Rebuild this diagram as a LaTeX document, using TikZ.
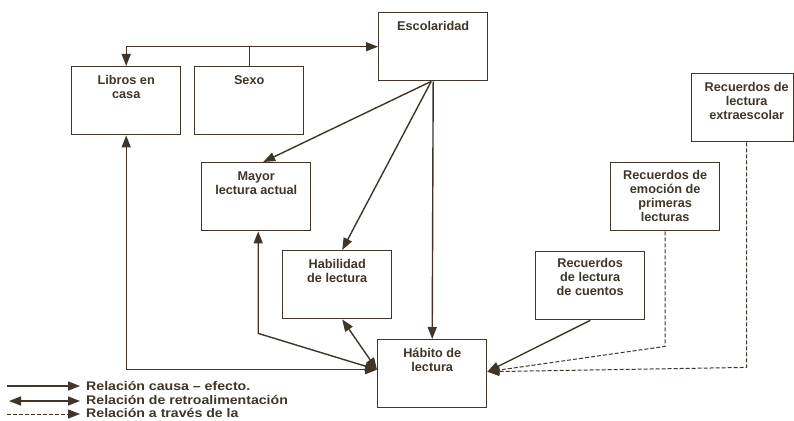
\documentclass[tikz,border=0pt]{standalone}
\usepackage{fontspec}
\setmainfont{Liberation Sans}
\usetikzlibrary{arrows.meta}
\definecolor{ink}{HTML}{3F3529}
\newcommand{\fls}{\rule{0pt}{12pt}}
\newcommand{\legw}[1]{\scalebox{1.13}[1]{#1}}
\begin{document}
\begin{tikzpicture}[x=1pt,y=-1pt,
  box/.style={draw=ink, line width=1.4pt, minimum width=109pt, minimum height=68pt, anchor=north west, inner sep=0pt},
  txt/.style={anchor=north, align=center, font=\fontsize{12.7}{14}\selectfont\bfseries, text=ink, inner sep=0pt},
  legtxt/.style={anchor=base west, font=\fontsize{12.5}{14}\selectfont\bfseries, text=ink, inner sep=0pt},
  con/.style={draw=ink, line width=1.4pt},
  dcon/.style={draw=ink, line width=1pt, dash pattern=on 4pt off 2pt},
  tip/.style={-{Triangle[length=12pt,width=9pt]}},
  tips/.style={{Triangle[length=12pt,width=9pt]}-{Triangle[length=12pt,width=9pt]}}
]
\useasboundingbox[fill=white] (0,0) rectangle (794,420);

% boxes
\node[box] (esc) at (378,12) {};
\node[txt] (esct) at ([yshift=-6pt]esc.north) {\fls Escolaridad};
\node[box] (lib) at (71,66) {};
\node[txt] (libt) at ([yshift=-6pt]lib.north) {\fls Libros en\\casa};
\node[box] (sex) at (194,66) {};
\node[txt] (sext) at ([yshift=-6pt]sex.north) {\fls Sexo};
\node[box, minimum width=102pt] (ext) at (691,73) {};
\node[txt] (extt) at ([xshift=4pt,yshift=-6pt]ext.north) {\fls Recuerdos de\\lectura\\extraescolar};
\node[box] (may) at (201,162) {};
\node[txt] (mayt) at ([yshift=-6pt]may.north) {\fls Mayor\\lectura actual};
\node[box] (emo) at (610,162) {};
\node[txt] (emot) at ([yshift=-5pt]emo.north) {\fls Recuerdos de\\emoción de\\primeras\\lecturas};
\node[box] (hab) at (282,250) {};
\node[txt] (habt) at ([yshift=-6pt]hab.north) {\fls Habilidad\\de lectura};
\node[box] (cue) at (535,251) {};
\node[txt] (cuet) at ([yshift=-4pt]cue.north) {\fls Recuerdos\\de lectura\\de cuentos};
\node[box] (hbt) at (377,339) {};
\node[txt] (hbtt) at ([yshift=-6pt]hbt.north) {\fls Hábito de\\lectura};

% Escolaridad links
\draw[con,tips] (lib.north) |- (esc.west);
\draw[con] (sex.north) -- (sex.north |- esc.west);
\coordinate (escb) at ([xshift=-2pt]esc.south);
\draw[con,tip] (escb) -- ([xshift=7pt]may.north);
\draw[con,tip] (escb) -- ([xshift=5pt]hab.north);
\draw[con,tip] (esc.south) -- (hbt.north);

% feedback links into Habito
\coordinate (hl) at ([yshift=4pt]hbt.west);
\draw[con,tips] (lib.south) |- (hl);
\draw[con,tips] ([xshift=2pt]may.south) -- ++(0,102) -- (hl);
\draw[con,tips] ([xshift=5pt]hab.south) -- (hl);

% right side links
\coordinate (hr) at ([yshift=2pt]hbt.east);
\draw[con,tip] (cue.south) -- (hr);
\draw[dcon,tip] (emo.south) -- ++(0,115) -- (hr);
\draw[dcon,tip] ([xshift=4pt]ext.south) -- ++(0,225) -- (hr);

% legend
\coordinate (a1) at (7,386);  \coordinate (b1) at (80,386);
\coordinate (a2) at (9,401);  \coordinate (b2) at (80,401);
\coordinate (a3) at (7,414);  \coordinate (b3) at (80,414);
\draw[con,tip] (a1) -- (b1);
\draw[con,tips] (a2) -- (b2);
\draw[dcon,tip] (a3) -- (b3);
\node[legtxt] (l1) at (86,390) {\legw{Relación causa – efecto.}};
\node[legtxt] (l2) at (86,404) {\legw{Relación de retroalimentación}};
\node[legtxt] (l3) at (86,417.5) {\legw{Relación a través de la}};
\end{tikzpicture}
\end{document}
